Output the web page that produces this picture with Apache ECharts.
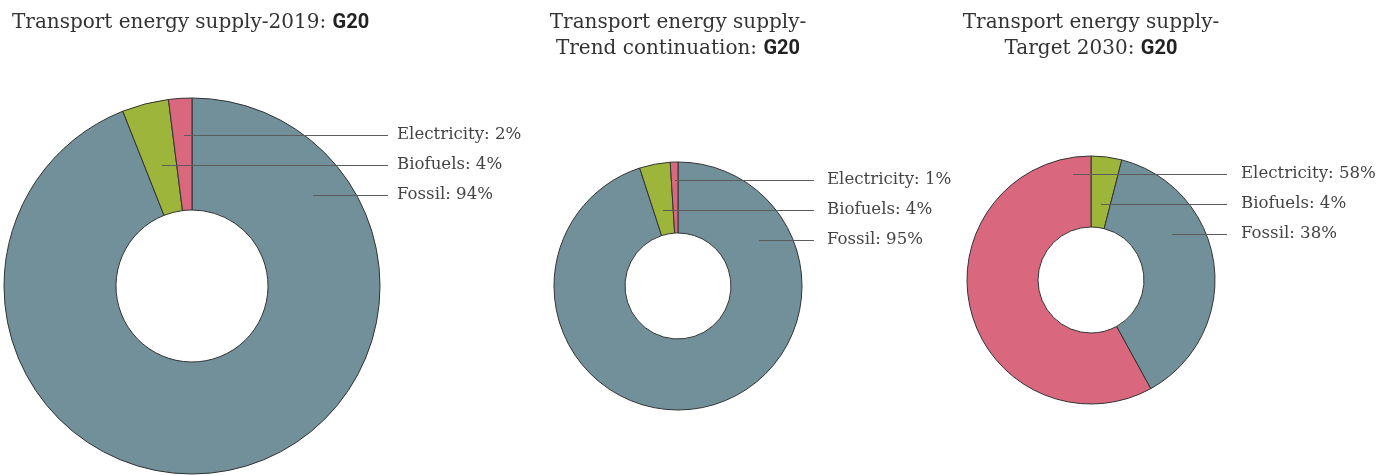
<!DOCTYPE html>
<html>
<head>
<meta charset="utf-8">
<script src="https://cdn.jsdelivr.net/npm/echarts@6/dist/echarts.min.js"></script>
<style>
  html, body { margin: 0; padding: 0; background: #fff; }
  #chart { width: 1394px; height: 476px; }
</style>
</head>
<body>
<div id="chart"></div>
<script>
// Transport energy supply shares (%) for the G20, three scenarios
const sources = ['Electricity', 'Biofuels', 'Fossil'];
const share2019 = { Electricity: 2, Biofuels: 4, Fossil: 94 };
const shareTrend = { Electricity: 1, Biofuels: 4, Fossil: 95 };
const shareTarget = { Electricity: 58, Biofuels: 4, Fossil: 38 };

// Slice order (clockwise from 12 o'clock) per chart
const order2019 = ['Fossil', 'Biofuels', 'Electricity'];
const orderTrend = ['Fossil', 'Biofuels', 'Electricity'];
const orderTarget = ['Biofuels', 'Fossil', 'Electricity'];

const titles = [
  ['Transport energy supply-2019: '],
  ['Transport energy supply-', 'Trend continuation: '],
  ['Transport energy supply-', 'Target 2030: ']
];
const region = 'G20';

const colors = { Electricity: '#d9687e', Biofuels: '#9db53b', Fossil: '#72909a' };

const SERIF = '"DejaVu Serif", serif';
const SANS = 'Roboto, "Liberation Sans", sans-serif';

// Geometry of each donut and its label column
const layouts = [
  { center: [192, 286], radius: [76, 188], rowTop: -151, lineEnd: 196, textX: 205,
    anchors: { Electricity: -8, Biofuels: -30, Fossil: 121 } },
  { center: [678, 286], radius: [53, 124], rowTop: -106, lineEnd: 136, textX: 149,
    anchors: { Electricity: -3, Biofuels: -15, Fossil: 81 } },
  { center: [1091, 280], radius: [53, 124], rowTop: -106, lineEnd: 136, textX: 150,
    anchors: { Electricity: -18, Biofuels: 10, Fossil: 81 } }
];
const rowGap = 30;

const datasets = [
  { shares: share2019, order: order2019 },
  { shares: shareTrend, order: orderTrend },
  { shares: shareTarget, order: orderTarget }
];

function sliceData(ds) {
  return ds.order.map(n => ({ name: n, value: ds.shares[n], itemStyle: { color: colors[n] } }));
}

// Filled donut
function ringSeries(ds, lay) {
  return {
    type: 'pie',
    z: 2,
    center: lay.center,
    radius: lay.radius,
    startAngle: 90,
    clockwise: true,
    animation: false,
    silent: true,
    itemStyle: { borderColor: '#333', borderWidth: 1 },
    label: { show: false },
    labelLine: { show: false },
    data: sliceData(ds)
  };
}

// Same slices, drawn transparent on top, carrying the leader lines and labels
function labelSeries(ds, lay) {
  const data = sliceData(ds).map(d => Object.assign({}, d, { itemStyle: { color: 'rgba(0,0,0,0)', borderWidth: 0 } }));
  return {
    type: 'pie',
    z: 5,
    center: lay.center,
    radius: lay.radius,
    startAngle: 90,
    clockwise: true,
    avoidLabelOverlap: false,
    animation: false,
    silent: true,
    label: {
      show: true,
      position: 'outside',
      formatter: p => p.name + ': ' + p.value + '%',
      fontFamily: SERIF,
      fontSize: 16.6,
      color: '#444'
    },
    labelLine: { show: true, lineStyle: { color: '#5c5c5c', width: 1 } },
    labelLayout: function (params) {
      const name = data[params.dataIndex].name;
      const row = sources.indexOf(name);
      const y = lay.center[1] + lay.rowTop + row * rowGap;
      const ly = y + 0.5;
      const x0 = lay.center[0] + lay.anchors[name];
      const x1 = lay.center[0] + lay.lineEnd;
      return {
        x: lay.center[0] + lay.textX,
        y: y,
        align: 'left',
        verticalAlign: 'middle',
        labelLinePoints: [[x0, ly], [x1, ly], [x1, ly]]
      };
    },
    data: data
  };
}

const titleRich = {
  l: { fontFamily: SERIF, fontSize: 20, fontWeight: 'normal', color: '#333', lineHeight: 26 },
  b: { fontFamily: SANS, fontSize: 20, fontWeight: 'bold', color: '#222', lineHeight: 26 }
};

function titleText(lines) {
  return lines.map((t, i) => '{l|' + t + '}' + (i === lines.length - 1 ? '{b|' + region + '}' : '')).join('\n');
}

const titleStyle = { fontWeight: 'normal', rich: titleRich };

const option = {
  backgroundColor: '#fff',
  title: [
    { text: titleText(titles[0]), left: 12, top: 10, padding: 0, textStyle: titleStyle },
    { text: titleText(titles[1]), left: 678, top: 10, padding: 0, textAlign: 'center', textStyle: titleStyle },
    { text: titleText(titles[2]), left: 1091, top: 10, padding: 0, textAlign: 'center', textStyle: titleStyle }
  ],
  series: datasets.map((ds, i) => ringSeries(ds, layouts[i]))
    .concat(datasets.map((ds, i) => labelSeries(ds, layouts[i])))
};

const chart = echarts.init(document.getElementById('chart'), null, { renderer: 'canvas' });
chart.setOption(option);
</script>
</body>
</html>
